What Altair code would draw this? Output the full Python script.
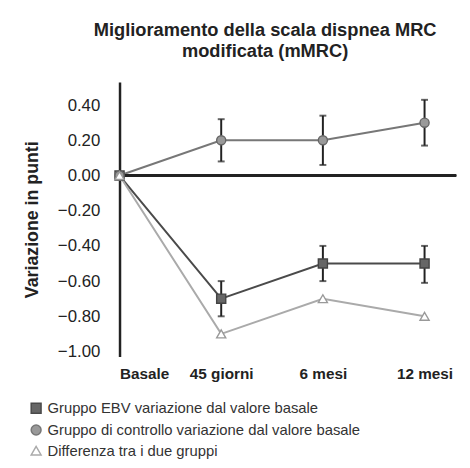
import json
import altair as alt
import pandas as pd

FONT = "Liberation Sans, Arial, Helvetica, sans-serif"

tempi = ["Basale", "45 giorni", "6 mesi", "12 mesi"]
serie = [
    "Gruppo EBV variazione dal valore basale",
    "Gruppo di controllo variazione dal valore basale",
    "Differenza tra i due gruppi",
]
ebv = [0.0, -0.70, -0.50, -0.50]
ebv_low = [None, -0.80, -0.60, -0.61]
ebv_high = [None, -0.60, -0.40, -0.40]
ctrl = [0.0, 0.20, 0.20, 0.30]
ctrl_low = [None, 0.08, 0.06, 0.17]
ctrl_high = [None, 0.32, 0.34, 0.43]
diff = [0.0, -0.90, -0.70, -0.80]
y_ticks = [-1.0, -0.8, -0.6, -0.4, -0.2, 0.0, 0.2, 0.4]

rows = []
for i in range(len(tempi)):
    rows.append(dict(t=i, tempo=tempi[i], serie=serie[0], valore=ebv[i], low=ebv_low[i], high=ebv_high[i]))
    rows.append(dict(t=i, tempo=tempi[i], serie=serie[1], valore=ctrl[i], low=ctrl_low[i], high=ctrl_high[i]))
    rows.append(dict(t=i, tempo=tempi[i], serie=serie[2], valore=diff[i], low=None, high=None))
df = pd.DataFrame(rows)

Y_DOMAIN = [-1.028, 0.531]
X_DOMAIN = [0, 3.31]

xscale = alt.Scale(domain=X_DOMAIN, nice=False, zero=False)
yscale = alt.Scale(domain=Y_DOMAIN, nice=False, zero=False)

x_axis = alt.Axis(
    values=list(range(len(tempi))), tickCount=len(tempi),
    labelExpr=json.dumps(tempi) + "[datum.value]",
    domain=False, ticks=False, grid=False,
    labelFont=FONT, labelFontSize=15.5, labelFontWeight="bold",
    labelColor="#222", labelPadding=10, title=None,
)
y_axis = alt.Axis(
    values=y_ticks, tickCount=len(y_ticks),
    format=".2f",
    labelOverlap=False,
    domain=True, domainColor="#222", domainWidth=2.5,
    ticks=False, grid=False,
    labelFont=FONT, labelFontSize=17, labelColor="#222", labelPadding=20,
    title="Variazione in punti", titleFont=FONT, titleFontSize=18,
    titleFontWeight="bold", titleColor="#222", titlePadding=16,
)

base = alt.Chart(df)

line_colors = ["#4a4a4a", "#777777", "#aaaaaa"]
leg = alt.Legend(
    orient="none", legendX=-92, legendY=323, title=None, direction="vertical",
    rowPadding=5,
    labelFont=FONT, labelFontSize=15, labelColor="#333", labelLimit=0,
)
lines = base.mark_line(strokeWidth=2).encode(
    x=alt.X("t:Q", scale=xscale, axis=x_axis),
    y=alt.Y("valore:Q", scale=yscale, axis=y_axis),
    color=alt.Color("serie:N", scale=alt.Scale(domain=serie, range=line_colors), legend=leg),
)

zero = base.mark_rule(color="#222", strokeWidth=2).encode(y=alt.datum(0.0))

err = base.transform_filter("isValid(datum.low)")
err_rule = err.mark_rule(color="#222", strokeWidth=2).encode(
    x=alt.X("t:Q"), y=alt.Y("low:Q"), y2="high:Q"
)
cap_low = err.mark_tick(color="#222", orient="horizontal", size=7, thickness=2).encode(
    x=alt.X("t:Q"), y=alt.Y("low:Q")
)
cap_high = err.mark_tick(color="#222", orient="horizontal", size=7, thickness=2).encode(
    x=alt.X("t:Q"), y=alt.Y("high:Q")
)

marker_shapes = ["square", "circle", "triangle-up"]
marker_fill = ["#666666", "#999999", "#ffffff"]
marker_stroke = ["#444444", "#666666", "#999999"]
points = base.mark_point(size=85, filled=True, strokeWidth=1.4, opacity=1).encode(
    x="t:Q", y="valore:Q",
    shape=alt.Shape("serie:N", scale=alt.Scale(domain=serie, range=marker_shapes), legend=None),
    fill=alt.Fill("serie:N", scale=alt.Scale(domain=serie, range=marker_fill), legend=None),
    stroke=alt.Stroke("serie:N", scale=alt.Scale(domain=serie, range=marker_stroke), legend=None),
)

chart = alt.layer(
    lines, zero, err_rule, cap_low, cap_high, points
).properties(
    width=341, height=278,
    padding={"left": 15, "top": 10, "right": 5, "bottom": 5},
    background="white",
    title=alt.TitleParams(
        text=["Miglioramento della scala dispnea MRC", "modificata (mMRC)"],
        font=FONT, fontSize=18.5, fontWeight="bold", color="#222",
        anchor="middle", dx=-23, offset=22, lineHeight=21,
    ),
).configure_view(stroke=None)

chart.save("out.html", embed_options={"renderer": "svg", "actions": False})
